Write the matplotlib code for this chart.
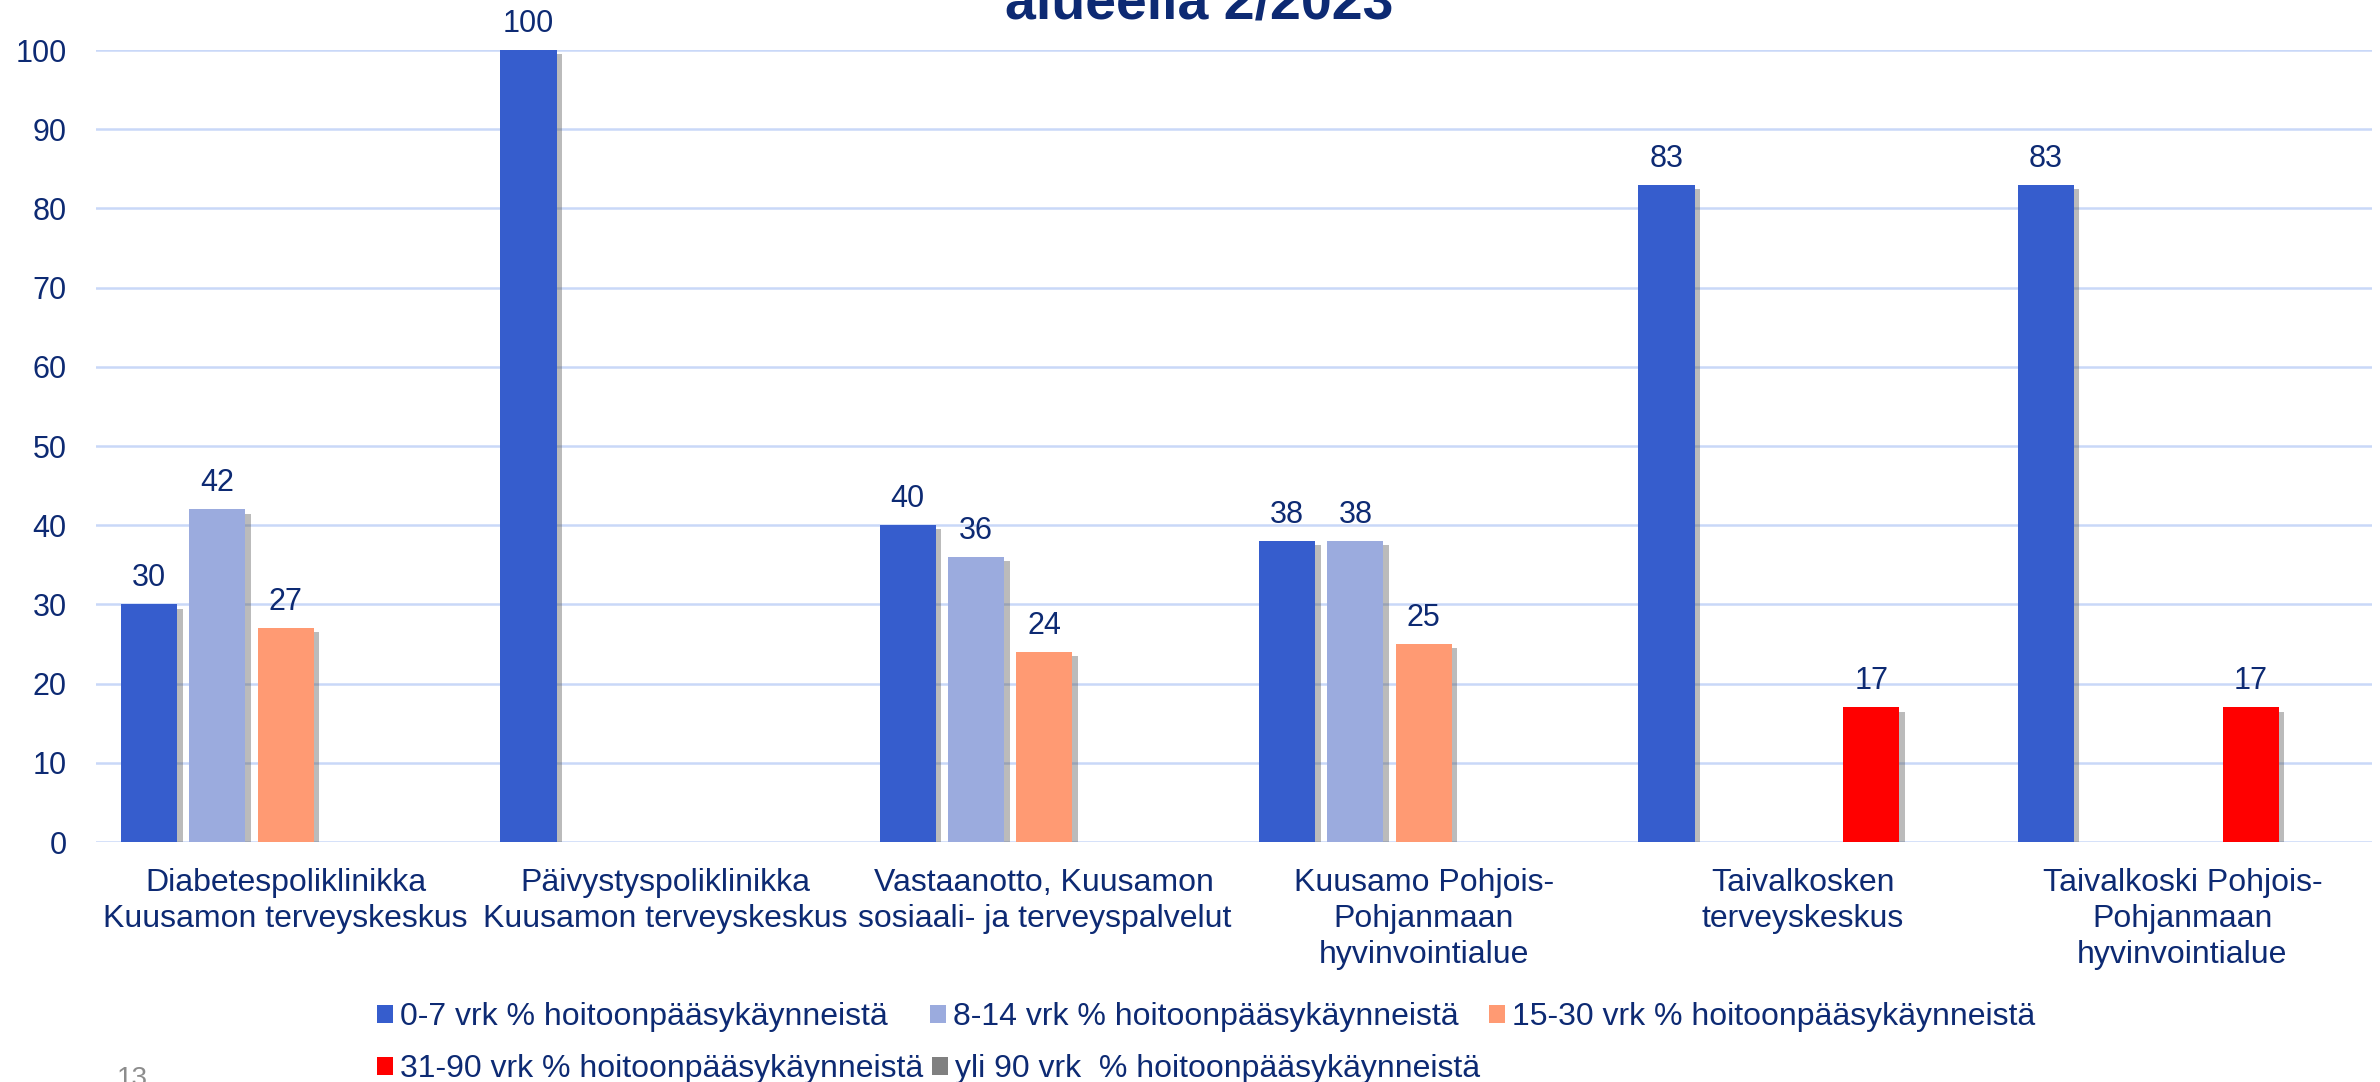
import numpy as np
import matplotlib
matplotlib.use("Agg")
import matplotlib.pyplot as plt
from matplotlib.patches import Patch
import matplotlib.patheffects as pe

plt.rcParams['font.family'] = ['Liberation Sans', 'DejaVu Sans']

categories = [
    "Diabetespoliklinikka\nKuusamon terveyskeskus",
    "Päivystyspoliklinikka\nKuusamon terveyskeskus",
    "Vastaanotto, Kuusamon\nsosiaali- ja terveyspalvelut",
    "Kuusamo Pohjois-\nPohjanmaan\nhyvinvointialue",
    "Taivalkosken\nterveyskeskus",
    "Taivalkoski Pohjois-\nPohjanmaan\nhyvinvointialue",
]
series_names = [
    "0-7 vrk % hoitoonpääsykäynneistä",
    "8-14 vrk % hoitoonpääsykäynneistä",
    "15-30 vrk % hoitoonpääsykäynneistä",
    "31-90 vrk % hoitoonpääsykäynneistä",
    "yli 90 vrk  % hoitoonpääsykäynneistä",
]
nan = np.nan
s_0_7 = [30, 100, 40, 38, 83, 83]
s_8_14 = [42, nan, 36, 38, nan, nan]
s_15_30 = [27, nan, 24, 25, nan, nan]
s_31_90 = [nan, nan, nan, nan, 17, 17]
s_yli_90 = [nan, nan, nan, nan, nan, nan]
series_values = [s_0_7, s_8_14, s_15_30, s_31_90, s_yli_90]
yticks = [0, 10, 20, 30, 40, 50, 60, 70, 80, 90, 100]
title_visible = "alueella 2/2023"
page_number = "13"

colors = ["#365DCD", "#9BABDE", "#FF9A73", "#FF0000", "#808080"]
navy = "#0D2A73"
grid_c = "#C9D8F8"
FS = 22
FS_CAT = 23
FS_LEG = 23

W, H = 2380, 1082
fig = plt.figure(figsize=(W / 100, H / 100), dpi=100)
ax = fig.add_axes([96 / W, 1 - 842 / H, (2372 - 96) / W, (842 - 50) / H])

x = np.arange(len(categories))
slot = 0.18
bw = 0.148
shadow = [pe.SimplePatchShadow(offset=(4, -3), shadow_rgbFace="#555555", alpha=0.4), pe.Normal()]
for i, (vals, c) in enumerate(zip(series_values, colors)):
    v = np.array(vals, dtype=float)
    bars = ax.bar(x + (i - 2) * slot, np.nan_to_num(v), bw, color=c, zorder=3)
    for b, val in zip(bars, v):
        if np.isnan(val):
            b.set_visible(False)
        else:
            b.set_path_effects(shadow)
    labels = ["" if np.isnan(val) else f"{val:g}" for val in v]
    ax.bar_label(bars, labels=labels, padding=8, fontsize=FS, color=navy)

ax.set_xlim(-0.5, len(categories) - 0.5)
ax.set_ylim(0, 100)
ax.set_yticks(yticks)
ax.yaxis.grid(True, color=grid_c, linewidth=1.8, zorder=0)
ax.set_axisbelow(True)
for s in ax.spines.values():
    s.set_visible(False)
ax.tick_params(axis="y", length=0, pad=21, labelsize=FS, labelcolor=navy)
ax.tick_params(axis="x", length=0, pad=19, labelsize=FS_CAT, labelcolor=navy)
ax.set_xticks(x)
ax.set_xticklabels(categories, linespacing=1.25)
for lbl in ax.get_xticklabels():
    lbl.set_multialignment("center")

handles = [Patch(facecolor=c, edgecolor="none") for c in colors]
leg_kw = dict(frameon=False, fontsize=FS_LEG, handlelength=0.5, handleheight=0.5,
              handletextpad=0.22, borderpad=0, borderaxespad=0, labelcolor=navy,
              loc="center left")
# legend entry anchors (marker left x, row centre y) in reference pixels
entry_x = [377, 930, 1489, 377, 932]
entry_y = [1017, 1017, 1017, 1069, 1069]
for h, name, ex, ey in zip(handles, series_names, entry_x, entry_y):
    lg = fig.legend([h], [name], bbox_to_anchor=(ex / W, 1 - ey / H), **leg_kw)

fig.text(1199 / W, 1 - 18 / H, title_visible, ha="center", va="baseline",
         fontsize=40, fontweight="bold", color=navy)
fig.text(132 / W, 1 - 1086 / H, page_number, ha="center", va="baseline",
         fontsize=20, color="#8C8C8C")

fig.savefig("out.png", dpi=100, facecolor="white")
